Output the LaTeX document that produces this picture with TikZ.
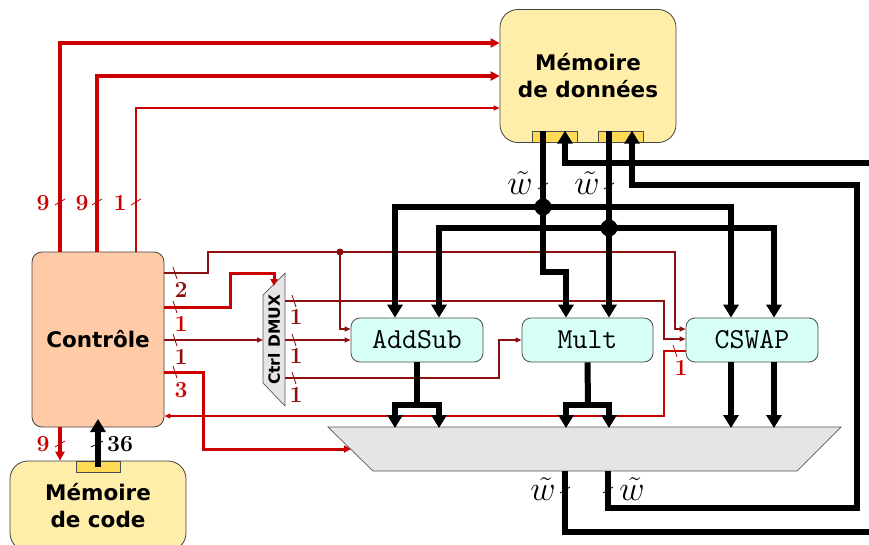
\documentclass[tikz,border=0pt]{standalone}
\usepackage{fontspec}
\newfontfamily\djsans{DejaVu Sans}
\usetikzlibrary{arrows.meta}
\definecolor{memyellow}{RGB}{255,237,170}
\definecolor{portyellow}{RGB}{255,218,85}
\definecolor{ctrlpeach}{RGB}{255,203,166}
\definecolor{unitcyan}{RGB}{214,255,246}
\definecolor{muxgray}{RGB}{229,229,229}
\definecolor{wred}{RGB}{204,0,0}
\definecolor{dred}{RGB}{140,16,16}
\begin{document}
\begin{tikzpicture}[x=1pt,y=-1pt,line join=miter,
  mem/.style={draw=black!75,fill=memyellow,rounded corners=18pt,line width=0.8pt,
    font=\djsans\bfseries\fontsize{21.5}{27}\selectfont,align=center,inner sep=0pt},
  ctrlbox/.style={draw=black!75,fill=ctrlpeach,rounded corners=10pt,line width=0.8pt,
    font=\djsans\bfseries\fontsize{21.5}{27}\selectfont,inner sep=0pt,
    minimum width=132pt,minimum height=175pt},
  portbox/.style={draw=black!70,fill=portyellow,line width=0.6pt,minimum width=45pt,
    minimum height=11pt,inner sep=0pt},
  unit/.style={draw=black!70,fill=unitcyan,rounded corners=9pt,line width=0.8pt,
    minimum width=132pt,minimum height=44pt,inner sep=0pt,
    font=\ttfamily\fontsize{29}{30}\selectfont},
  muxshape/.style={draw=black!65,fill=muxgray,line width=0.7pt},
  bus/.style={line width=6pt,black},
  btip/.tip={Triangle[length=13pt,width=15pt]},
  rtip/.tip={Triangle[length=9pt,width=9pt]},
  mtip/.tip={Triangle[length=7pt,width=7pt]},
  stip/.tip={Triangle[length=6pt,width=5pt]},
  redthick/.style={line width=4pt,wred},
  redmid/.style={line width=3pt,wred},
  redthin/.style={line width=1.4pt,wred},
  darkthin/.style={line width=1.4pt,dred},
  tickmark/.style={line width=0.8pt},
  numlbl/.style={font=\bfseries\fontsize{23}{24}\selectfont,inner sep=0pt},
  wlbl/.style={font=\fontsize{24}{24}\selectfont,inner sep=0pt,scale=1.4}
]
\useasboundingbox (0,0) rectangle (869,544);

% ---------- boxes ----------
\node[mem,minimum width=176pt,minimum height=133pt] (dm) at (588,76) {Mémoire\\de données};
\node[mem,minimum width=176pt,minimum height=90pt] (code) at (98,506) {Mémoire\\de code};
\node[ctrlbox] (ctrl) at (98,339.5) {Contrôle};
\node[portbox] (dmp1) at (554.5,136.5) {};
\node[portbox] (dmp2) at (620.5,136.5) {};
\node[portbox,minimum width=44pt] (cp) at (98,466.5) {};
\node[unit] (addsub) at (417,340) {AddSub};
\node[unit,minimum width=131pt] (mult) at (587.5,340) {Mult};
\node[unit] (cswap) at (752,340) {CSWAP};

% output mux
\draw[muxshape] (328,427) -- (841,427) -- (797,471) -- (373,471) -- cycle;
\coordinate (muxin) at (351,449);
% control demux
\draw[muxshape] (263,295) -- (285,273) -- (285,406) -- (263,383) -- cycle;
\node[rotate=90,font=\djsans\bfseries\fontsize{15.5}{16}\selectfont,inner sep=0pt] (dmux) at (274,340) {Ctrl DMUX};
\coordinate (dmuxtop) at (274,286);
\coordinate (dmuxin) at (263,340);

% ---------- red control lines to data memory ----------
\draw[redthick,-rtip] (60,0 |- ctrl.north) -- (60,43) -- (dm.west |- 0,43);
\draw[redthick,-rtip] (97,0 |- ctrl.north) -- (97,76) -- (dm.west |- 0,76);
\draw[redthin,-stip] (136,0 |- ctrl.north) -- (136,108) -- (dm.west |- 0,108);
\draw[tickmark,wred] (60,202) ++(-5,3) -- ++(10,-6);
\draw[tickmark,wred] (97,202) ++(-5,3) -- ++(10,-6);
\draw[tickmark,wred] (136,202) ++(-5,3) -- ++(10,-6);
\node[numlbl,text=wred] at (43,203) {9};
\node[numlbl,text=wred] at (82,203) {9};
\node[numlbl,text=wred] at (120,203) {1};

% ---------- code memory ----------
\draw[redthick,-rtip] (60,0 |- ctrl.south) -- (60,0 |- code.north);
\draw[bus,-btip] (cp.center) -- (cp.center |- 0,419);
\draw[tickmark,wred] (60,444) ++(-5,3) -- ++(10,-6);
\draw[tickmark] (97,444) ++(-6,3) -- ++(12,-6);
\node[numlbl,text=wred] at (43,444) {9};
\node[numlbl] at (120,444) {36};

% ---------- control outputs ----------
\draw[darkthin,-stip] (ctrl.east |- 0,273) -- (208,273) -- (208,252) -- (675,252) -- (675,329) -- (cswap.west |- 0,329);
\fill[dred] (340,252) circle (3.5pt);
\draw[darkthin,-stip] (340,252) -- (340,329) -- (addsub.west |- 0,329);
\draw[redmid,-mtip] (ctrl.east |- 0,307) -- (230,307) -- (230,273) -- (274,273) -- (dmuxtop);
\draw[darkthin,-stip] (ctrl.east |- 0,340) -- (dmuxin);
\draw[redmid,-mtip] (ctrl.east |- 0,372) -- (203,372) -- (203,449) -- (muxin);
\draw[redthin,-stip] (cswap.west |- 0,351) -- (664,351) -- (664,416) -- (ctrl.east |- 0,416);
\foreach \yy in {273,307,340,372}
  \draw[tickmark,dred] (175,\yy) ++(-2,-6) -- ++(4,12);
\node[numlbl,text=dred] at (181,290) {2};
\node[numlbl,text=wred] at (181,324) {1};
\node[numlbl,text=dred] at (181,357) {1};
\node[numlbl,text=wred] at (181,390) {3};
\draw[tickmark,wred] (675,351) ++(-2,-6) -- ++(4,12);
\node[numlbl,text=wred] at (681,368) {1};

% demux outputs
\draw[darkthin,-stip] (285,301) -- (664,301) -- (664,339) -- (cswap.west |- 0,339);
\draw[darkthin,-stip] (285,340) -- (addsub.west);
\draw[darkthin,-stip] (285,378) -- (499,378) -- (499,340) -- (mult.west);
\foreach \yy in {301,340,378}
  \draw[tickmark,dred] (294,\yy) ++(-2,-6) -- ++(4,12);
\node[numlbl,text=dred] at (296,317) {1};
\node[numlbl,text=dred] at (296,356) {1};
\node[numlbl,text=dred] at (296,395) {1};

% ---------- data buses ----------
\draw[bus,-btip] (543,131) -- (543,272) -- (566,272) -- (566,0 |- mult.north);
\draw[bus,-btip] (609,131) -- (609,0 |- mult.north);
\draw[bus,btip-btip] (395,0 |- addsub.north) -- (395,207) -- (731,207) -- (731,0 |- cswap.north);
\draw[bus,btip-btip] (439,0 |- addsub.north) -- (439,228) -- (774,228) -- (774,0 |- cswap.north);
\fill (543,207) circle (8.5pt);
\fill (609,228) circle (8.5pt);
\draw[tickmark] (543,186) ++(-5,3) -- ++(10,-6);
\draw[tickmark] (609,186) ++(-5,3) -- ++(10,-6);
\node[wlbl] at (520,183) {$\tilde{w}$};
\node[wlbl] at (587,183) {$\tilde{w}$};

% unit outputs to mux
\draw[bus] (addsub.south) -- (417,405);
\draw[bus,btip-btip] (395,428) -- (395,405) -- (439,405) -- (439,428);
\draw[bus] (mult.south) -- (588,405);
\draw[bus,btip-btip] (566,428) -- (566,405) -- (609,405) -- (609,428);
\draw[bus,-btip] (731,0 |- cswap.south) -- (731,428);
\draw[bus,-btip] (774,0 |- cswap.south) -- (774,428);

% mux outputs back to data memory
\draw[bus,-btip] (565,471) -- (565,532) -- (876,532) -- (876,163) -- (565,163) -- (565,0 |- dmp1.north);
\draw[bus,-btip] (608,471) -- (608,508) -- (857,508) -- (857,185) -- (632,185) -- (632,0 |- dmp2.north);
\draw[tickmark] (565,490) ++(-5,3) -- ++(10,-6);
\draw[tickmark] (608,490) ++(-5,3) -- ++(10,-6);
\node[wlbl] at (543,489) {$\tilde{w}$};
\node[wlbl] at (632,489) {$\tilde{w}$};
\end{tikzpicture}
\end{document}
